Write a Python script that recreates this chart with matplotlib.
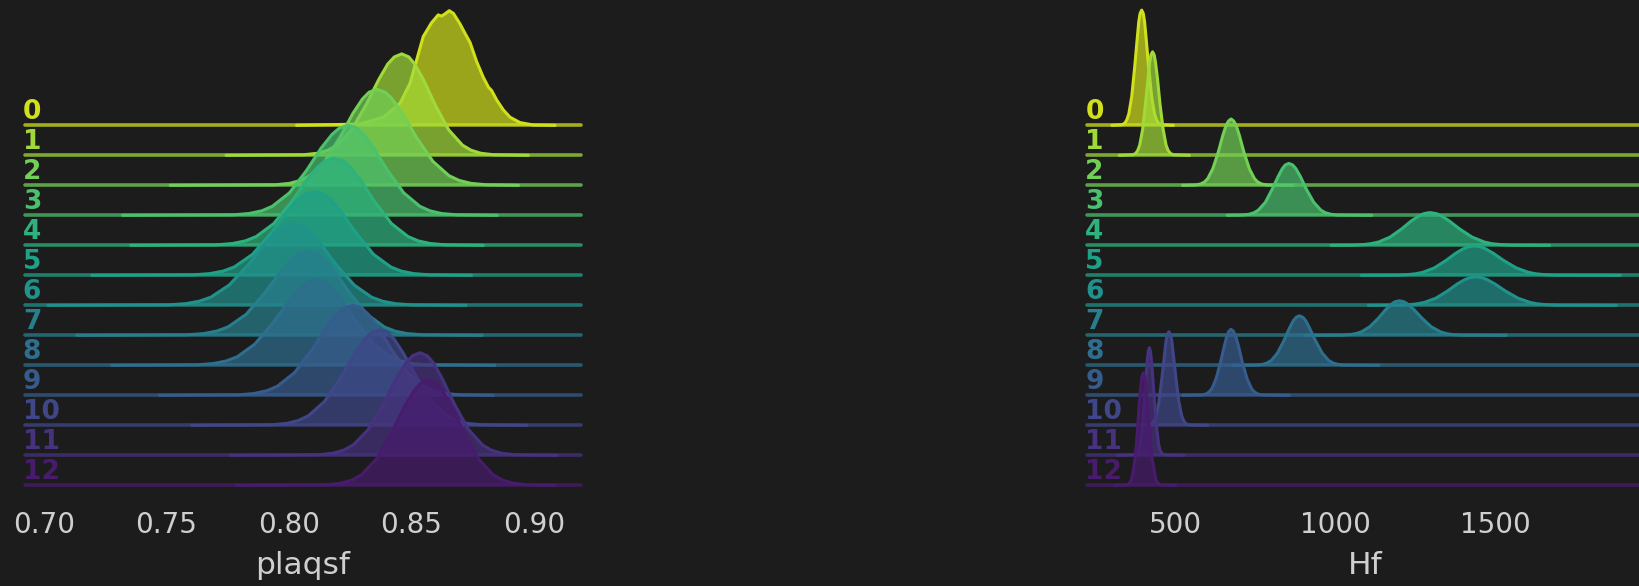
import numpy as np
import matplotlib
matplotlib.use("Agg")
import matplotlib.pyplot as plt
from matplotlib import transforms

# --- data: one density ridge per group, heights in units of ridge spacing ---
GROUPS = [str(g) for g in range(13)]

# shared shape of a ridge: fraction of its peak at each listed x
LEVELS = [0, 0.005, 0.02, 0.05, 0.1, 0.25, 0.5, 0.75, 0.9, 0.97, 1,
          0.97, 0.9, 0.75, 0.5, 0.25, 0.1, 0.05, 0.02, 0.005, 0]

# plaqsf, group 0 (irregular top, traced point by point)
PLAQSF_X0 = [0.8031, 0.8290, 0.8385, 0.8453, 0.8494, 0.8521, 0.8548, 0.8582, 0.8609,
             0.8623, 0.8636, 0.8654, 0.8671, 0.8698, 0.8718, 0.8739, 0.8766, 0.8793,
             0.8814, 0.8827, 0.8848, 0.8875, 0.8902, 0.8943, 0.8997, 0.9086]
PLAQSF_H0 = [0, 0.04, 0.27, 0.73, 1.40, 2.18, 2.96, 3.42, 3.68, 3.64, 3.71, 3.82, 3.73,
             3.38, 3.07, 2.76, 2.12, 1.60, 1.27, 1.16, 0.84, 0.51, 0.27, 0.09, 0.01, 0]

# plaqsf, groups 1..12
PLAQSF_X = [
    [0.7743, 0.8059, 0.8116, 0.8159, 0.8196, 0.8255, 0.8315, 0.8367, 0.8403, 0.8430, 0.8460, 0.8489, 0.8513, 0.8548, 0.8596, 0.8652, 0.8708, 0.8743, 0.8783, 0.8836, 0.8977],
    [0.7515, 0.7943, 0.8002, 0.8046, 0.8085, 0.8146, 0.8208, 0.8261, 0.8300, 0.8327, 0.8358, 0.8392, 0.8421, 0.8463, 0.8520, 0.8587, 0.8653, 0.8695, 0.8743, 0.8806, 0.8937],
    [0.7321, 0.7772, 0.7838, 0.7889, 0.7932, 0.8002, 0.8072, 0.8132, 0.8176, 0.8206, 0.8242, 0.8276, 0.8304, 0.8345, 0.8402, 0.8468, 0.8534, 0.8575, 0.8622, 0.8684, 0.8850],
    [0.7354, 0.7701, 0.7769, 0.7821, 0.7866, 0.7938, 0.8010, 0.8072, 0.8117, 0.8148, 0.8185, 0.8220, 0.8249, 0.8291, 0.8350, 0.8418, 0.8486, 0.8528, 0.8577, 0.8641, 0.8793],
    [0.7195, 0.7607, 0.7677, 0.7731, 0.7777, 0.7851, 0.7925, 0.7989, 0.8035, 0.8067, 0.8105, 0.8141, 0.8171, 0.8215, 0.8275, 0.8345, 0.8415, 0.8458, 0.8509, 0.8575, 0.8745],
    [0.7016, 0.7507, 0.7578, 0.7633, 0.7681, 0.7756, 0.7833, 0.7899, 0.7946, 0.7979, 0.8018, 0.8055, 0.8086, 0.8131, 0.8193, 0.8266, 0.8337, 0.8382, 0.8434, 0.8502, 0.8722],
    [0.7133, 0.7581, 0.7651, 0.7705, 0.7751, 0.7825, 0.7899, 0.7963, 0.8009, 0.8041, 0.8079, 0.8115, 0.8145, 0.8189, 0.8249, 0.8319, 0.8389, 0.8432, 0.8483, 0.8549, 0.8789],
    [0.7276, 0.7621, 0.7690, 0.7743, 0.7789, 0.7861, 0.7935, 0.7998, 0.8044, 0.8076, 0.8113, 0.8148, 0.8177, 0.8219, 0.8278, 0.8346, 0.8414, 0.8456, 0.8505, 0.8569, 0.8841],
    [0.7471, 0.7792, 0.7858, 0.7909, 0.7952, 0.8022, 0.8092, 0.8152, 0.8196, 0.8226, 0.8262, 0.8295, 0.8324, 0.8364, 0.8420, 0.8485, 0.8550, 0.8591, 0.8637, 0.8699, 0.8834],
    [0.7603, 0.7929, 0.7991, 0.8038, 0.8079, 0.8145, 0.8211, 0.8268, 0.8309, 0.8337, 0.8371, 0.8403, 0.8430, 0.8468, 0.8521, 0.8583, 0.8645, 0.8683, 0.8727, 0.8786, 0.8970],
    [0.7762, 0.8120, 0.8179, 0.8223, 0.8262, 0.8323, 0.8385, 0.8438, 0.8477, 0.8504, 0.8535, 0.8564, 0.8590, 0.8625, 0.8675, 0.8733, 0.8790, 0.8826, 0.8868, 0.8922, 0.9093],
    [0.7784, 0.8154, 0.8213, 0.8257, 0.8296, 0.8357, 0.8419, 0.8472, 0.8511, 0.8538, 0.8569, 0.8600, 0.8626, 0.8663, 0.8714, 0.8774, 0.8833, 0.8871, 0.8914, 0.8970, 0.9086],
]
PLAQSF_PEAK = [3.38, 3.20, 3.00, 2.90, 2.79, 2.70, 2.79, 2.84, 3.00, 3.18, 3.42, 3.51]

# Hf, groups 0..12
HF_X = [
    [303, 335, 344, 350, 356, 365, 374, 382, 387, 391, 396, 401, 405, 410, 418, 427, 436, 442, 448, 457, 495],
    [326, 369, 378, 384, 390, 399, 408, 416, 421, 425, 430, 435, 439, 445, 453, 463, 472, 478, 485, 494, 545],
    [524, 564, 580, 592, 602, 618, 635, 649, 659, 667, 675, 683, 691, 701, 715, 732, 748, 758, 770, 786, 867],
    [663, 711, 731, 747, 760, 782, 803, 822, 835, 844, 855, 867, 877, 891, 910, 933, 955, 969, 986, 1007, 1114],
    [987, 1052, 1086, 1112, 1135, 1171, 1207, 1238, 1261, 1277, 1295, 1315, 1331, 1355, 1388, 1427, 1465, 1488, 1516, 1552, 1669],
    [1081, 1190, 1224, 1250, 1273, 1309, 1345, 1376, 1399, 1415, 1433, 1453, 1469, 1493, 1526, 1565, 1603, 1626, 1654, 1690, 1890],
    [1103, 1195, 1229, 1255, 1278, 1314, 1350, 1381, 1404, 1420, 1438, 1458, 1474, 1498, 1531, 1570, 1608, 1631, 1659, 1695, 1877],
    [905, 1020, 1046, 1065, 1082, 1108, 1135, 1158, 1175, 1186, 1200, 1215, 1227, 1245, 1270, 1299, 1328, 1346, 1366, 1394, 1534],
    [680, 755, 774, 788, 801, 820, 840, 857, 869, 878, 888, 899, 908, 920, 938, 959, 979, 992, 1007, 1026, 1137],
    [524, 584, 597, 606, 615, 628, 642, 654, 662, 668, 675, 682, 689, 698, 710, 725, 739, 748, 758, 772, 857],
    [399, 420, 429, 435, 441, 450, 459, 467, 472, 476, 481, 486, 490, 495, 503, 512, 521, 527, 533, 542, 602],
    [321, 376, 382, 387, 391, 397, 404, 410, 414, 417, 420, 423, 426, 430, 436, 443, 449, 453, 458, 464, 529],
    [311, 351, 358, 364, 368, 376, 383, 389, 394, 397, 401, 405, 408, 413, 420, 428, 437, 441, 446, 454, 503],
]
HF_PEAK = [3.84, 3.45, 2.21, 1.73, 1.09, 0.98, 0.95, 1.15, 1.65, 2.20, 3.12, 3.59, 3.75]

PLAQSF_TICKS = [0.70, 0.75, 0.80, 0.85, 0.90]
HF_TICKS = [500, 1000, 1500]

# --- style ---
BG = "#1c1c1c"
TEXT = "#cfcfcf"
W, H = 1639, 586
SPACING_PX = 30.0
BASE_PX = 485.3           # pixel row of the lowest ridge, from the top
AX_W_PX = 556.5

n = len(GROUPS)
palette = plt.get_cmap("viridis")(np.linspace(1, 0, n + 2)[1:-1])


def ridge_panel(fig, left_px, xlim, curves, ticks, fmt, xlabel):
    ax = fig.add_axes([left_px / W, (H - BASE_PX) / H, AX_W_PX / W, BASE_PX / H])
    ax.set_facecolor("none")
    ax.set_xlim(*xlim)
    ax.set_ylim(0, BASE_PX / SPACING_PX)
    for s in ax.spines.values():
        s.set_visible(False)
    ax.set_yticks([])
    ax.set_xticks(ticks)
    ax.set_xticklabels([fmt(t) for t in ticks])
    ax.tick_params(axis="x", length=0, pad=18.5, labelsize=20, labelcolor=TEXT)
    ax.set_xlabel(xlabel, fontsize=22.5, color=TEXT, labelpad=9)

    trans = transforms.blended_transform_factory(ax.transAxes, ax.transData)
    for i, ((xs, hs), col) in enumerate(zip(curves, palette)):
        base = n - 1 - i
        y = base + np.asarray(hs)
        z = 10 + 3 * i
        ax.fill_between(xs, base, y, color=col, alpha=0.7, lw=0, zorder=z, clip_on=False)
        ax.plot(xs, y, color=col, lw=2.2, zorder=z + 1, clip_on=False,
                solid_capstyle="round", solid_joinstyle="round")
        ax.axhline(base, color=col, lw=2.6, alpha=0.75, zorder=z + 2,
                   solid_capstyle="round", clip_on=False)
        ax.text(-0.003, base + 0.45, GROUPS[i], transform=trans, color=col,
                fontsize=19, fontweight="bold", ha="left", va="center", zorder=100)
    return ax


fig = plt.figure(figsize=(W / 100, H / 100), dpi=100, facecolor=BG)

plaq_curves = [(PLAQSF_X0, PLAQSF_H0)] + [
    (xs, [lv * p for lv in LEVELS]) for xs, p in zip(PLAQSF_X, PLAQSF_PEAK)
]
hf_curves = [(xs, [lv * p for lv in LEVELS]) for xs, p in zip(HF_X, HF_PEAK)]

ridge_panel(fig, 24.5, (0.69204, 0.91918), plaq_curves, PLAQSF_TICKS,
            lambda t: f"{t:.2f}", "plaqsf")
ridge_panel(fig, 1087, (225.4, 1961.8), hf_curves, HF_TICKS,
            lambda t: f"{t:d}", "Hf")

fig.savefig("out.png", dpi=100, facecolor=BG)
